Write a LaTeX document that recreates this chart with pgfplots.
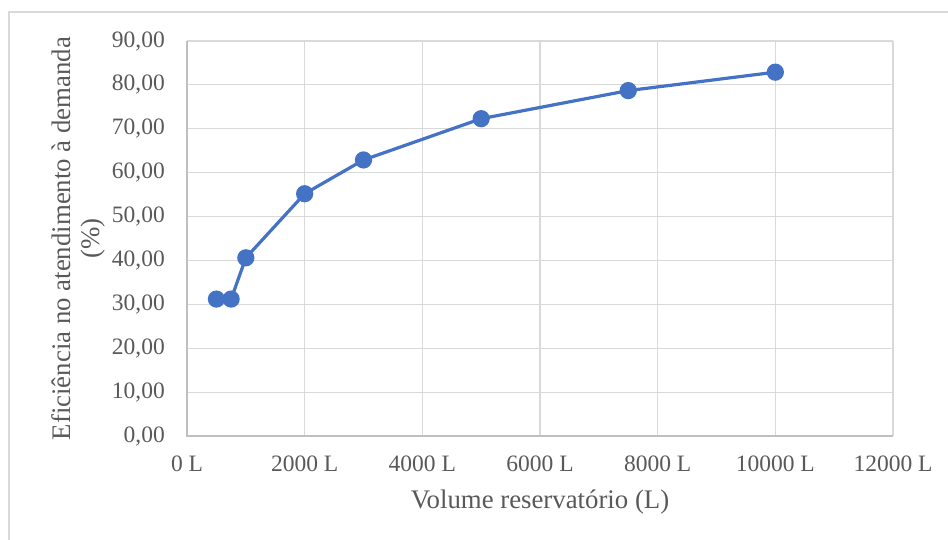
\documentclass[border=0pt]{standalone}
\usepackage{pgfplots}
\pgfplotsset{compat=1.18}
\usepackage{fontspec}
\setmainfont{Liberation Serif}
\definecolor{txt}{HTML}{595959}
\definecolor{gridc}{HTML}{D9D9D9}
\definecolor{axc}{HTML}{BFBFBF}
\definecolor{ser}{HTML}{4472C4}
\begin{document}
\fontsize{11.75}{13}\selectfont
\begin{tikzpicture}
\path[use as bounding box] (0,0) rectangle (474pt,270pt);
\draw[gridc, line width=0.6pt] (4.5pt,-10pt) rectangle (490pt,264pt);
\begin{axis}[
  at={(93.5pt,52pt)}, anchor=south west,
  scale only axis, width=353pt, height=197.5pt,
  xmin=0, xmax=12000, ymin=0, ymax=90,
  scaled x ticks=false, scaled y ticks=false,
  xtick={0,2000,...,12000}, ytick={0,10,...,90},
  xticklabels={0 L,2000 L,4000 L,6000 L,8000 L,10000 L,12000 L},
  yticklabels={{0,00},{10,00},{20,00},{30,00},{40,00},{50,00},{60,00},{70,00},{80,00},{90,00}},
  grid=major, major grid style={gridc, line width=0.6pt},
  axis line style={draw=none},
  tick style={draw=none},
  ticklabel style={text=txt, font=\fontsize{11.75}{13}\selectfont},
  yticklabel style={xshift=-7pt},
  xticklabel style={yshift=-5.6pt},
  xlabel={Volume reservatório (L)},
  ylabel={Eficiência no atendimento à demanda\\(\%)},
  label style={text=txt, font=\fontsize{13.4}{14.5}\selectfont},
  xlabel style={at={(axis description cs:0.5,-0.167)}, anchor=center},
  ylabel style={at={(axis description cs:-0.1537,0.5)}, anchor=center, align=center},
  clip=false,
]
\draw[axc, line width=0.8pt] (axis cs:0,90) -- (axis cs:0,0) -- (axis cs:12000,0);
\addplot[ser, line width=1.6pt, mark=*, mark size=3.5pt, mark options={fill=ser, draw=ser}]
coordinates {(500,31.2) (750,31.2) (1000,40.6) (2000,55.2) (3000,62.9) (5000,72.3) (7500,78.7) (10000,82.9)};
\end{axis}
\end{tikzpicture}
\end{document}
